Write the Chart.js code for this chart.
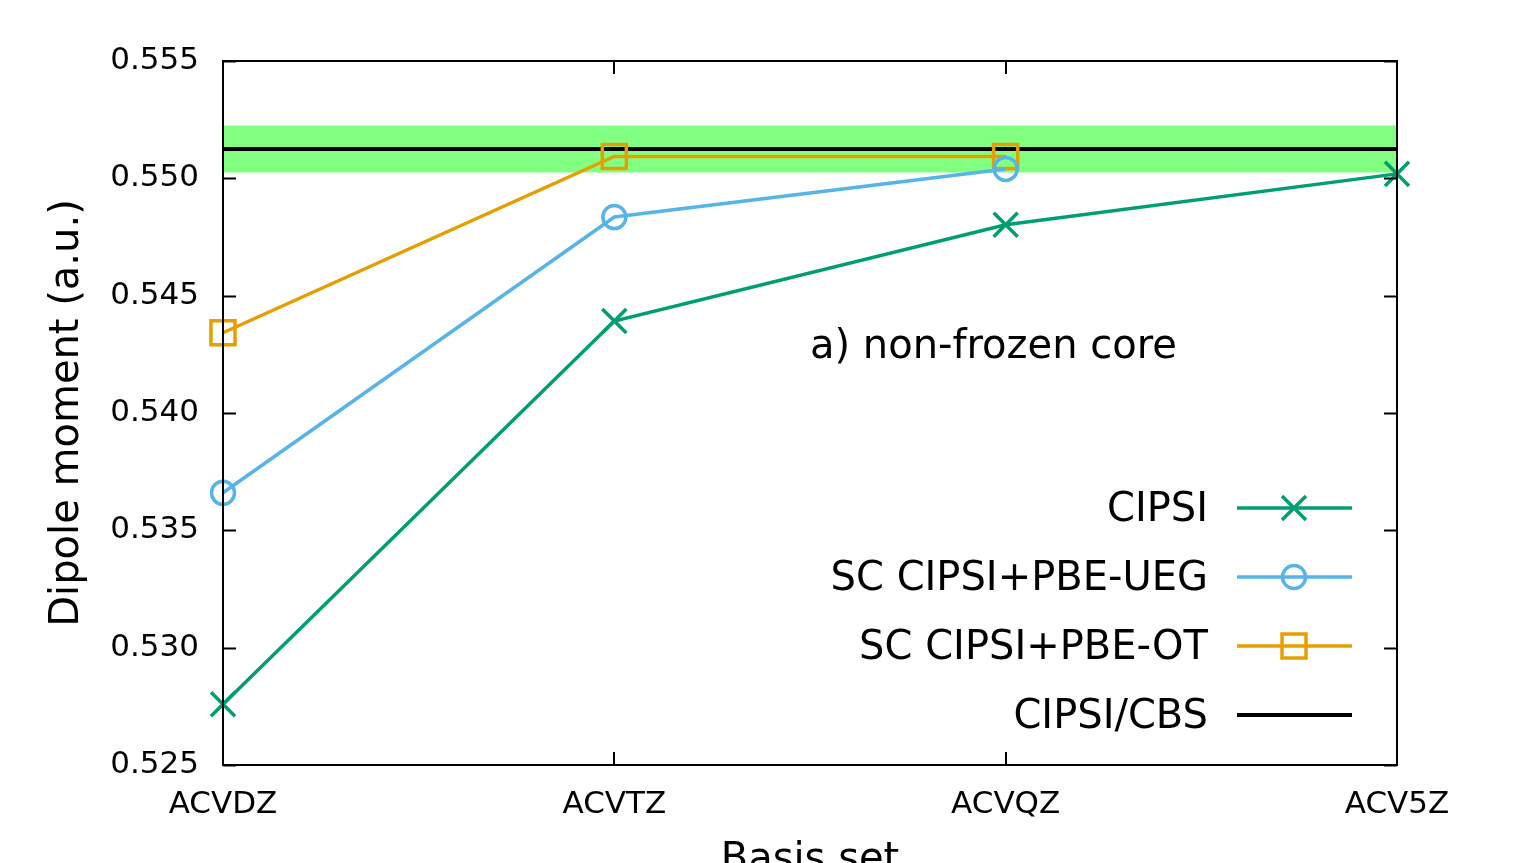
<!doctype html>
<html lang="en">
  <head>
    <meta charset="utf-8">
    <title>Dipole moment vs basis set</title>
    <script src="https://cdn.jsdelivr.net/npm/chart.js@4.4.0/dist/chart.umd.min.js"></script>
    <style>
      body { margin: 0; background: #fff; }
      #wrap { position: relative; width: 1519px; height: 863px; }
    </style>
  </head>
  <body>
    <div id="wrap"><canvas id="chart"></canvas></div>

    <script>
      // basis sets along x
      const basis = ["ACVDZ", "ACVTZ", "ACVQZ", "ACV5Z"];

      // dipole moments (a.u.)
      const cipsi = [0.52759, 0.54392, 0.54802, 0.55019];
      const scUeg = [0.53660, 0.54835, 0.55040, null];
      const scOt  = [0.54342, 0.55093, 0.55093, null];

      // CBS estimate with its error bar
      const cbs = 0.55125;
      const cbsErr = 0.0010;

      const yTicks = [0.525, 0.530, 0.535, 0.540, 0.545, 0.550, 0.555];

      const font = "'DejaVu Sans', sans-serif";
      const green = "#009e73", blue = "#56b4e9", orange = "#e69f00";

      const legendItems = [
        { label: "CIPSI", color: green, marker: "cross" },
        { label: "SC CIPSI+PBE-UEG", color: blue, marker: "circle" },
        { label: "SC CIPSI+PBE-OT", color: orange, marker: "square" },
        { label: "CIPSI/CBS", color: "#000", marker: null }
      ];

      function drawMarker(ctx, kind, x, y, color) {
        ctx.save();
        ctx.strokeStyle = color;
        ctx.lineWidth = 3.5;
        ctx.beginPath();
        if (kind === "cross") {
          ctx.moveTo(x - 12, y - 12); ctx.lineTo(x + 12, y + 12);
          ctx.moveTo(x - 12, y + 12); ctx.lineTo(x + 12, y - 12);
        } else if (kind === "circle") {
          ctx.arc(x, y, 11.5, 0, Math.PI * 2);
        } else if (kind === "square") {
          ctx.rect(x - 12, y - 12, 24, 24);
        }
        ctx.stroke();
        ctx.restore();
      }

      const frame = {
        id: "frame",
        afterDatasetsDraw(chart) {
          const { ctx, chartArea: a, scales: { x, y } } = chart;
          ctx.save();
          ctx.strokeStyle = "#000";
          ctx.lineWidth = 2;
          ctx.beginPath();
          // inward ticks, gnuplot style, mirrored on both sides
          yTicks.forEach(v => {
            const py = Math.round(y.getPixelForValue(v)) + 0.5;
            ctx.moveTo(a.left, py); ctx.lineTo(a.left + 13, py);
            ctx.moveTo(a.right, py); ctx.lineTo(a.right - 13, py);
          });
          basis.forEach((b, i) => {
            const px = Math.round(x.getPixelForValue(i));
            ctx.moveTo(px, a.bottom); ctx.lineTo(px, a.bottom - 13);
            ctx.moveTo(px, a.top); ctx.lineTo(px, a.top + 13);
          });
          ctx.stroke();
          ctx.strokeRect(a.left, a.top, a.right - a.left, a.bottom - a.top);

          ctx.fillStyle = "#000";
          ctx.font = "40px " + font;
          ctx.textBaseline = "middle";
          ctx.textAlign = "left";
          ctx.fillText("a) non-frozen core", 810, 348);

          ctx.textAlign = "center";
          ctx.fillText("Basis set", (a.left + a.right) / 2, 861);

          // legend
          ctx.textAlign = "right";
          legendItems.forEach((it, i) => {
            const ly = 508 + i * 69;
            ctx.fillStyle = "#000";
            ctx.fillText(it.label, 1208, ly + 3);
            ctx.strokeStyle = it.color;
            ctx.lineWidth = it.marker ? 3.5 : 4;
            ctx.beginPath();
            ctx.moveTo(1237, ly); ctx.lineTo(1352, ly);
            ctx.stroke();
            if (it.marker) drawMarker(ctx, it.marker, 1294, ly, it.color);
          });
          ctx.restore();
        }
      };

      const series = (label, data, color, style, radius) => ({
        label, data, borderColor: color, backgroundColor: "transparent",
        borderWidth: 3.5, pointStyle: style, pointRadius: radius, pointBorderWidth: 3.5,
        pointBorderColor: color, pointBackgroundColor: "transparent",
        tension: 0, clip: false, spanGaps: false, order: 0
      });

      new Chart(document.getElementById("chart").getContext("2d"), {
        type: "line",
        data: {
          labels: basis,
          datasets: [
            series("CIPSI", cipsi, green, "crossRot", 17),
            series("SC CIPSI+PBE-UEG", scUeg, blue, "circle", 11.5),
            series("SC CIPSI+PBE-OT", scOt, orange, "rect", 17),
            { label: "CIPSI/CBS", data: basis.map(() => cbs), borderColor: "#000", borderWidth: 4,
              pointRadius: 0, order: 1 },
            { label: "lo", data: basis.map(() => cbs - cbsErr), borderWidth: 0, pointRadius: 0,
              fill: false, order: 3 },
            { label: "hi", data: basis.map(() => cbs + cbsErr), borderWidth: 0, pointRadius: 0,
              fill: "-1", backgroundColor: "#80ff80", order: 2 }
          ]
        },
        options: {
          responsive: true,
          maintainAspectRatio: false,
          animation: false,
          layout: { padding: { top: 61, right: 122, left: 0, bottom: 0 } },
          plugins: { legend: { display: false }, tooltip: { enabled: false } },
          scales: {
            x: {
              type: "category",
              offset: false,
              grid: { display: false, drawTicks: false },
              border: { display: false },
              ticks: { color: "#000", font: { family: font, size: 31 }, padding: 21, maxRotation: 0 },
              afterFit(s) { s.height = 98; }
            },
            y: {
              min: 0.525,
              max: 0.555,
              grid: { display: false, drawTicks: false },
              border: { display: false },
              afterBuildTicks(s) { s.ticks = yTicks.map(v => ({ value: v })); },
              ticks: {
                color: "#000", font: { family: font, size: 31 }, padding: 24,
                callback: v => v.toFixed(3)
              },
              title: {
                display: true, text: "Dipole moment (a.u.)", color: "#000",
                font: { family: font, size: 40 }, padding: { top: 44, bottom: 0 }
              },
              afterFit(s) { s.width = 223; }
            }
          }
        },
        plugins: [frame]
      });
    </script>
  </body>
</html>
